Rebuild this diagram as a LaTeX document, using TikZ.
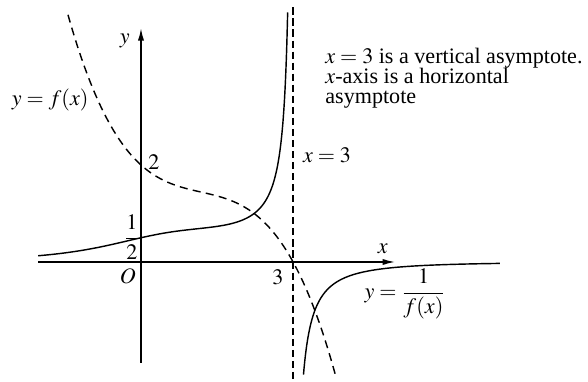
\documentclass[tikz,border=0pt]{standalone}
\usepackage{amsmath}
\usepackage{mathptmx}
\usepackage{fontspec}
\setmainfont{Liberation Serif}
\usepackage{tikz}
\usetikzlibrary{
  arrows.meta,
  positioning
}
\tikzset{
  axisline/.style={line width=0.8pt, -{Latex[length=7pt,width=3.5pt]}},
  solidcurve/.style={line width=0.8pt},
  dashcurve/.style={line width=0.8pt, dash pattern=on 4.5pt off 3pt},
  asymline/.style={line width=0.7pt, dash pattern=on 4pt off 2.2pt}
}

\begin{document}
\begin{tikzpicture}[x=1cm, y=0.9566cm, every node/.style={font=\fontsize{12.4}{11.3}\selectfont},
  declare function={f(\x)=2-0.942*\x+0.597*\x*\x-0.1684*\x*\x*\x;}]
            \useasboundingbox (-2.781,-2.454) rectangle (8.817,5.402);

            % Axes
            \coordinate (xstart) at (-2.03,0);
            \coordinate (xend) at (5.01,0);
            \coordinate (ystart) at (0,-2.08);
            \coordinate (yend) at (0,4.82);
            \draw[axisline] (xstart) -- (xend);
            \draw[axisline] (ystart) -- (yend);
            \node (xlab) at (4.77,0.27) {$x$};
            \node (ylab) at (-0.32,4.55) {$y$};
            \node (origin) at (-0.26,-0.3) {$O$};

            % Vertical asymptote x = 3
            \coordinate (asymtop) at (3,5.25);
            \coordinate (asymbot) at (3,-2.45);
            \draw[asymline] (asymtop) -- (asymbot);
            \node (three) at (2.7,-0.31) {$3$};
            \node (asymlab) at (3.67,2.21) {$x=3$};

            % y = f(x), dashed
            \draw[dashcurve] plot[domain=-1.44:3.83, samples=120, smooth] (\x,{f(\x)});
            \node (flab) at (-1.79,3.34) {$y=f(x)$};
            \node[anchor=west] (ftwo) at (0.02,2.05) {$2$};

            % y = 1/f(x), solid
            \draw[solidcurve] plot[domain=-2.03:2.896, samples=300, smooth] (\x,{1/f(\x)});
            \draw[solidcurve] plot[domain=3.205:7.08, samples=300, smooth] (\x,{1/f(\x)});
            \node (half) at (-0.18,0.52) {$\dfrac{1}{2}$};
            \node (reclab) at (5.21,-0.66) {$y=\dfrac{1}{f(x)}$};

            % Note
            \node[anchor=north west, align=left, inner sep=0pt] (note) at (3.63,4.42)
              {$x=3$ is a vertical asymptote.\\$x$-axis is a horizontal\\asymptote};
        \end{tikzpicture}
\end{document}
